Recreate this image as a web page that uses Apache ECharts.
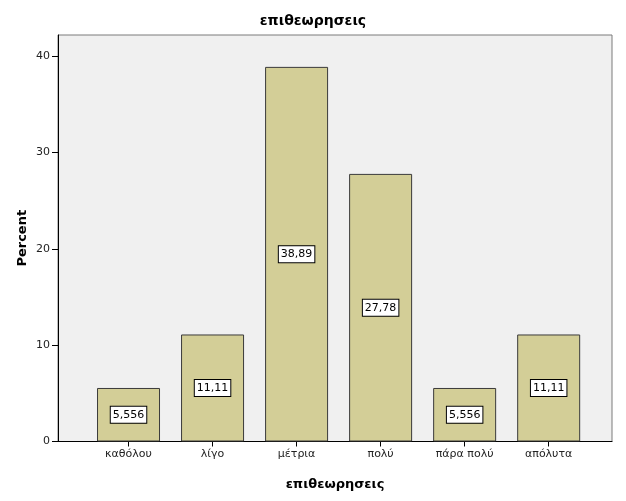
<!DOCTYPE html>
<html>
<head>
<meta charset="utf-8">
<script src="https://cdn.jsdelivr.net/npm/echarts@6/dist/echarts.min.js"></script>
<style>html,body{margin:0;padding:0;background:#fff}#c{width:626px;height:501px}</style>
</head>
<body>
<div id="c"></div>
<script>
const title = 'επιθεωρησεις';
const categories = ['καθόλου', 'λίγο', 'μέτρια', 'πολύ', 'πάρα πολύ', 'απόλυτα'];
const percents = [5.556, 11.11, 38.89, 27.78, 5.556, 11.11];
const yTicks = [0, 10, 20, 30, 40];
const yName = 'Percent';
const xName = 'επιθεωρησεις';

const FONT = 'DejaVu Sans';
const chart = echarts.init(document.getElementById('c'), null, {renderer: 'canvas'});
const yMax = 42.2;
chart.setOption({
  animation: false,
  backgroundColor: '#ffffff',
  title: {
    text: title, left: 'center', top: 9,
    textStyle: {fontFamily: FONT, fontSize: 14, fontWeight: 'bold', color: '#000'}
  },
  grid: [
    {left: 58, right: 14, top: 35, bottom: 59.5, show: true, backgroundColor: '#F0F0F0', borderColor: '#7a7a7a', borderWidth: 1},
    {left: 86.5, right: 35.3, top: 35, bottom: 59.5}
  ],
  xAxis: [
    {gridIndex: 0, type: 'value', min: 0, max: 1, show: true,
     axisLine: {show: true, lineStyle: {color: '#000', width: 1}}, axisTick: {show: false}, axisLabel: {show: false}, splitLine: {show: false},
     name: xName, nameLocation: 'middle', nameGap: 37,
     nameTextStyle: {fontFamily: FONT, fontSize: 13, fontWeight: 'bold', color: '#000'}},
    {gridIndex: 1, type: 'category', data: categories,
     axisLine: {show: false}, axisTick: {show: true, alignWithLabel: true, length: 5, lineStyle: {color: '#000'}},
     axisLabel: {fontFamily: FONT, fontSize: 11, color: '#222', margin: 7}}
  ],
  yAxis: [
    {gridIndex: 0, type: 'value', min: 0, max: yMax, interval: 10,
     axisLine: {show: true, lineStyle: {color: '#000'}},
     axisTick: {show: true, inside: false, length: 6, lineStyle: {color: '#000'}, customValues: yTicks},
     axisLabel: {fontFamily: FONT, fontSize: 11, color: '#222', margin: 8, customValues: yTicks},
     splitLine: {show: false},
     name: yName, nameLocation: 'middle', nameGap: 29, nameRotate: 90, nameMoveOverlap: false,
     nameTextStyle: {fontFamily: FONT, fontSize: 13, fontWeight: 'bold', color: '#000'}},
    {gridIndex: 1, type: 'value', min: 0, max: yMax, show: false}
  ],
  series: [{
    type: 'bar', xAxisIndex: 1, yAxisIndex: 1,
    data: percents, barWidth: 63,
    itemStyle: {color: '#D3CE97', borderColor: '#3a3a3a', borderWidth: 1},
    label: {
      show: true, position: 'inside',
      formatter: p => String(p.value).replace('.', ','),
      fontFamily: FONT, fontSize: 11, color: '#000',
      backgroundColor: '#fff', borderColor: '#000', borderWidth: 1, padding: [3, 2, 2, 2]
    }
  }]
});
</script>
</body>
</html>
